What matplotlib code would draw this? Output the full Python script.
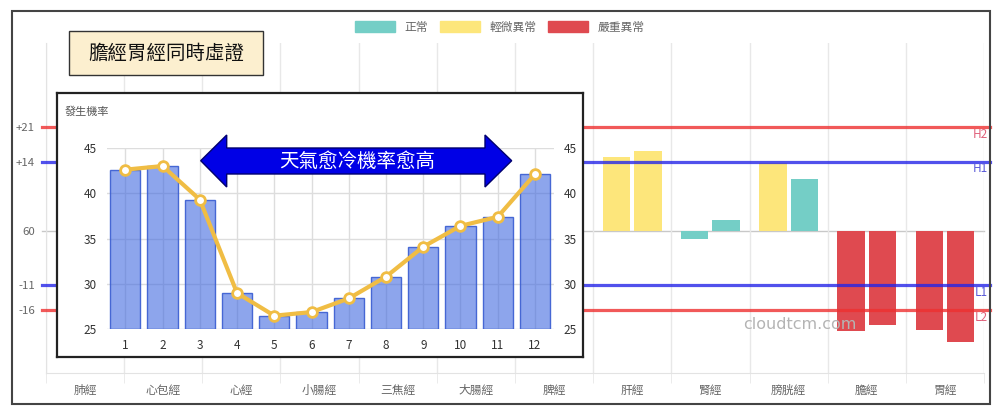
import matplotlib
matplotlib.use('Agg')
import matplotlib.pyplot as plt
import matplotlib.transforms as mtransforms
from matplotlib.patches import Rectangle, Polygon, Patch
import numpy as np

plt.rcParams['font.family'] = ['Noto Sans CJK TC', 'DejaVu Sans']

W, H = 1000, 415

# 主圖: 十二經絡左右手數值 (基準 60), 前七條被小圖遮住
meridians = ['肺經', '心包經', '心經', '小腸經', '三焦經', '大腸經', '脾經',
             '肝經', '腎經', '膀胱經', '膽經', '胃經']
left_vals = [None] * 7 + [75.0, 58.4, 73.8, 39.8, 40.0]
right_vals = [None] * 7 + [76.2, 62.2, 70.5, 41.0, 37.6]
left_state = [None] * 7 + ['輕微異常', '正常', '輕微異常', '嚴重異常', '嚴重異常']
right_state = [None] * 7 + ['輕微異常', '正常', '正常', '嚴重異常', '嚴重異常']
baseline = 60
limit_names = ['H2', 'H1', 'L1', 'L2']
limit_vals = [81, 74, 49, 44]
tick_vals = [44, 49, 60, 74, 81]
tick_labels = ['-16', '-11', '60', '+14', '+21']

# 小圖: 各月份發生機率
months = list(range(1, 13))
prob = [42.6, 43.0, 39.3, 29.0, 26.5, 26.9, 28.4, 30.8, 34.1, 36.4, 37.4, 42.1]

state_colors = {'正常': '#74CEC6', '輕微異常': '#FDE67B', '嚴重異常': '#DF4A50'}
limit_colors = {'H2': '#EE3030', 'H1': '#2525E8', 'L1': '#2525E8', 'L2': '#EE3030'}
label_colors = {'H2': '#E0607A', 'H1': '#5A5AD8', 'L1': '#5A5AD8', 'L2': '#E0607A'}


def fx(x):
    return x / W


def fy(y):
    return 1 - y / H


fig = plt.figure(figsize=(W / 100, H / 100), dpi=100)

# ---- 主圖 ----
ax = fig.add_axes([fx(46), fy(373), 938 / W, 330 / H])
ax.set_xlim(-0.5, 11.5)
ax.set_ylim(31.3, 98)

for i in range(len(meridians)):
    if left_vals[i] is not None:
        ax.bar(i - 0.2, left_vals[i] - baseline, bottom=baseline, width=0.35,
               color=state_colors[left_state[i]], zorder=2)
    if right_vals[i] is not None:
        ax.bar(i + 0.2, right_vals[i] - baseline, bottom=baseline, width=0.35,
               color=state_colors[right_state[i]], zorder=2)

ax.set_xticks(range(len(meridians)))
ax.set_xticklabels(meridians)
ax.set_xticks(np.arange(-0.5, len(meridians)), minor=True)
ax.grid(which='minor', axis='x', color='#E8E8E8', lw=1)
ax.tick_params(axis='x', which='minor', length=7, color='#E8E8E8')
ax.tick_params(axis='x', which='major', length=0, pad=8, labelsize=8.5, labelcolor='#666666')
ax.set_yticks(tick_vals, tick_labels)
ax.tick_params(axis='y', length=0, pad=8, labelsize=8.2, labelcolor='#666666')
for s in ['top', 'right']:
    ax.spines[s].set_visible(False)
for s in ['left', 'bottom']:
    ax.spines[s].set_color('#E3E3E3')

trans = mtransforms.blended_transform_factory(ax.transAxes, ax.transData)
ax.plot([-4 / 938, 1], [baseline, baseline], transform=trans, color='#C8C8C8',
        lw=1, clip_on=False, zorder=1)
for name, val in zip(limit_names, limit_vals):
    ax.plot([-4 / 938, 944 / 938], [val, val], transform=trans, color=limit_colors[name],
            lw=2.3, alpha=0.8, clip_on=False, zorder=3)
    ax.annotate(name, xy=(942 / 938, val), xycoords=trans, xytext=(0, -5),
                textcoords='offset points', ha='right', va='center', fontsize=8.5,
                color=label_colors[name], annotation_clip=False)

ax.text(fx(800), fy(324), 'cloudtcm.com', transform=fig.transFigure, ha='center',
        va='center', fontsize=11.5, color='#B4B4B4', family='DejaVu Sans', zorder=5)

# ---- 小圖 ----
frame = fig.add_axes([fx(57), fy(357), 526 / W, 264 / H])
frame.set_xticks([])
frame.set_yticks([])
frame.set_facecolor('white')
for s in frame.spines.values():
    s.set_linewidth(1.6)
    s.set_color('#222222')

iax = fig.add_axes([fx(106.7), fy(329.3), 446.9 / W, 181.4 / H])
iax.set_facecolor('none')
iax.set_xlim(0.5, 12.5)
iax.set_ylim(25, 45)
iax.bar(months, [p - 25 for p in prob], bottom=25, width=0.81,
        color=(0.255, 0.41, 0.88, 0.6), edgecolor=(0.22, 0.36, 0.82, 0.9), lw=1, zorder=2)
iax.plot(months, prob, color='#F0BD44', lw=3, marker='o', ms=7, mfc='white',
         mec='#F0BD44', mew=2, zorder=3)
iax.set_xticks(months)
iax.set_yticks([25, 30, 35, 40, 45])
iax.grid(color='#DDDDDD', lw=1)
iax.set_axisbelow(True)
iax.tick_params(length=0, labelsize=8.5, labelcolor='#333333')
iax.tick_params(axis='y', labelright=True, pad=7)
iax.tick_params(axis='x', pad=7)
for s in iax.spines.values():
    s.set_visible(False)

fig.text(fx(65), fy(112), '發生機率', ha='left', va='center', fontsize=8, color='#555555')

# 雙向箭頭
arrow_px = [(200.7, 160.7), (226.7, 135), (226.7, 148), (485, 148), (485, 135),
            (511.7, 160.7), (485, 187), (485, 174), (226.7, 174), (226.7, 187)]
fig.add_artist(Polygon([(fx(x), fy(y)) for x, y in arrow_px], closed=True,
                       transform=fig.transFigure, facecolor='#0000E6',
                       edgecolor='#00006E', lw=1, zorder=2))
fig.text(fx(357), fy(161), '天氣愈冷機率愈高', ha='center', va='center',
         fontsize=14, color='white', zorder=3)

# 標題框
fig.add_artist(Rectangle((fx(69), fy(75)), 194 / W, 44 / H, transform=fig.transFigure,
                         facecolor='#FCEFCF', edgecolor='#333333', lw=1, zorder=2))
fig.text(fx(166), fy(53), '膽經胃經同時虛證', ha='center', va='center', fontsize=14,
         color='#111111', zorder=3)

# 圖例
handles = [Patch(facecolor=c, edgecolor=c, label=k) for k, c in state_colors.items()]
fig.legend(handles=handles, loc='center', bbox_to_anchor=(fx(500), fy(27)), ncol=3,
           frameon=False, fontsize=8.5, handlelength=3.4, handleheight=1.0,
           handletextpad=0.8, columnspacing=1.0, labelcolor='#666666')

# 外框
fig.add_artist(Rectangle((fx(12), fy(404)), 978 / W, 393 / H, transform=fig.transFigure,
                         fill=False, edgecolor='#444444', lw=1.5, zorder=10))

fig.savefig('out.png', dpi=100)
